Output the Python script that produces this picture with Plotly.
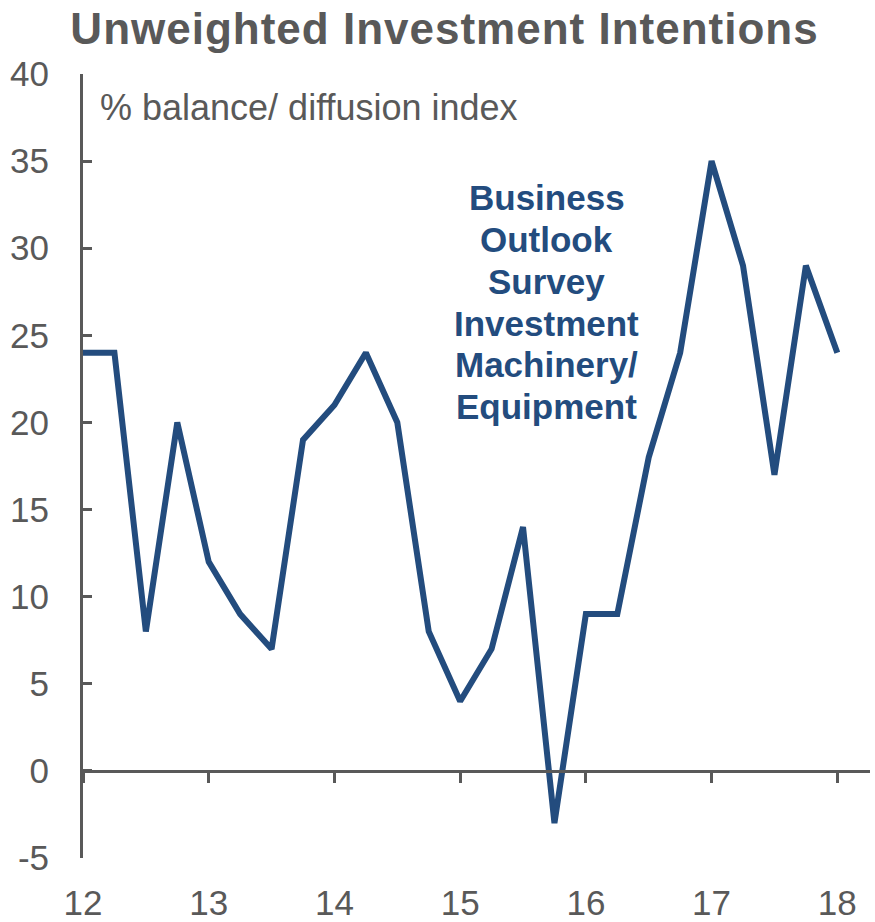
import plotly.graph_objects as go

# Quarterly readings, 2012 Q1 to 2018 Q1
quarters = [12 + 0.25 * i for i in range(25)]
investment = [24, 24, 8, 20, 12, 9, 7, 19, 21, 24, 20, 8, 4, 7, 14, -3,
              9, 9, 18, 24, 35, 29, 17, 29, 24]
year_ticks = [12, 13, 14, 15, 16, 17, 18]
year_labels = ["12", "13", "14", "15", "16", "17", "18"]
y_ticks = [-5, 0, 5, 10, 15, 20, 25, 30, 35, 40]
y_labels = ["-5", "0", "5", "10", "15", "20", "25", "30", "35", "40"]
series_label = ["Business", "Outlook", "Survey", "Investment",
                "Machinery/", "Equipment"]

grey = "#595959"
navy = "#234C7E"
font = "Liberation Sans, Arial, sans-serif"
x_range = [12, 18.26]

fig = go.Figure()
fig.add_trace(go.Scatter(
    x=quarters, y=investment, mode="lines",
    line=dict(color=navy, width=6), showlegend=False, hoverinfo="skip",
))
# invisible trace to attach the zero-line axis
fig.add_trace(go.Scatter(x=[12], y=[0], xaxis="x2", mode="none",
                         showlegend=False, hoverinfo="skip"))

annotations = [
    dict(text="% balance/ diffusion index", x=12.12, y=38.1,
         xref="x", yref="y", xanchor="left", yanchor="middle",
         showarrow=False, font=dict(size=36, color=grey, family=font)),
]
# series label, one line per annotation for tight line spacing
label_top, label_step = 32.9, 2.4
for i, word in enumerate(series_label):
    annotations.append(dict(
        text=f"<b>{word}</b>", x=15.69, y=label_top - i * label_step,
        xref="x", yref="y", xanchor="center", yanchor="middle",
        showarrow=False, font=dict(size=35, color=navy, family=font)))

fig.update_layout(
    width=875, height=922,
    margin=dict(l=83, r=5, t=74, b=64, autoexpand=False),
    paper_bgcolor="white", plot_bgcolor="white",
    font=dict(family=font, color=grey, size=35),
    title=dict(text='<b><span style="letter-spacing:1px">Unweighted Investment Intentions</span></b>',
               x=0.508, xanchor="center", y=0.969, yanchor="middle",
               font=dict(size=44, color=grey, family=font)),
    xaxis=dict(range=x_range, tickvals=year_ticks, ticktext=year_labels,
               showline=False, showgrid=False, zeroline=False, ticks="",
               automargin=False,
               ticklabelstandoff=21, tickfont=dict(size=35, color=grey)),
    xaxis2=dict(range=x_range, overlaying="x", anchor="free", position=5 / 45,
                tickvals=year_ticks, showticklabels=False, showgrid=False,
                zeroline=False, showline=True, linecolor=grey, linewidth=3,
                ticks="outside", ticklen=10, tickwidth=3, tickcolor=grey,
                automargin=False),
    yaxis=dict(range=[-5, 40], tickvals=y_ticks, ticktext=y_labels,
               showgrid=False, zeroline=False, automargin=False,
               showline=True, linecolor=grey, linewidth=3,
               ticks="inside", ticklen=9, tickwidth=3, tickcolor=grey,
               ticklabelstandoff=24, tickfont=dict(size=35, color=grey)),
    annotations=annotations,
)

fig.write_html("out.html")
